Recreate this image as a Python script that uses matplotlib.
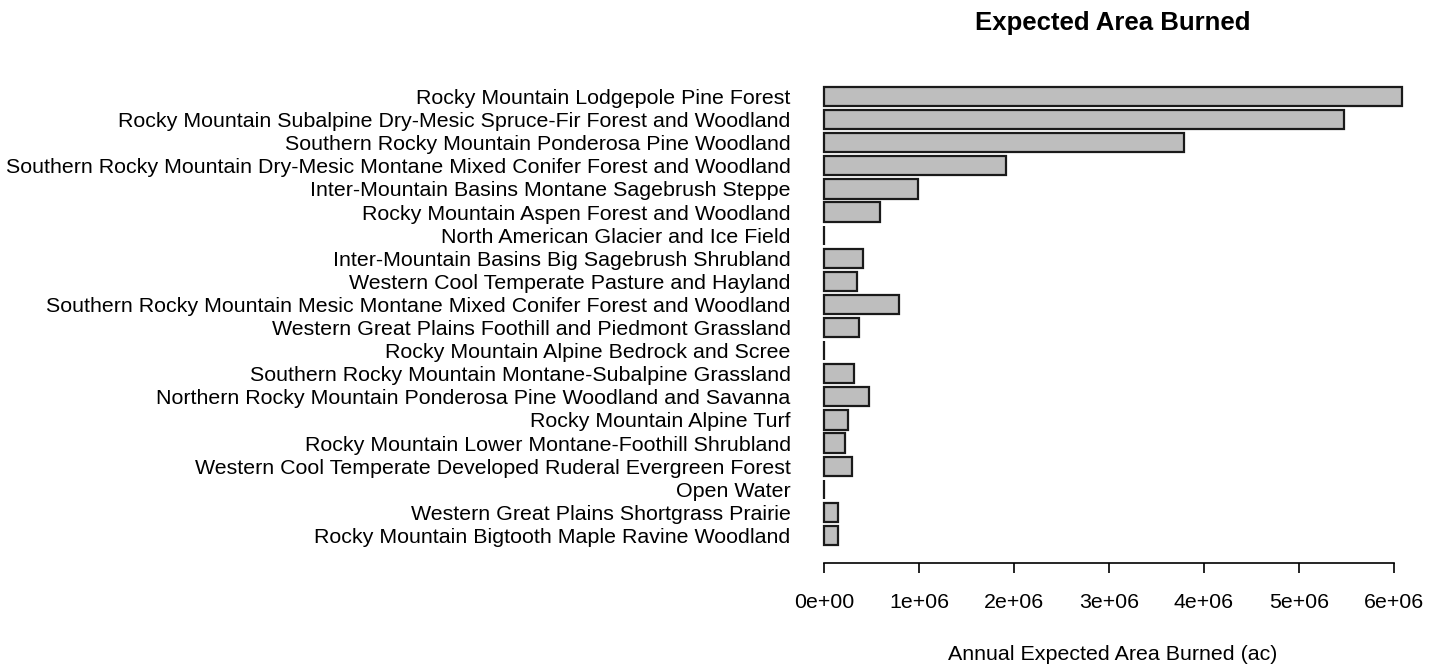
import matplotlib.pyplot as plt
import numpy as np
from matplotlib.ticker import FuncFormatter

plt.rcParams['font.family'] = ['Liberation Sans', 'DejaVu Sans']

# Vegetation types, listed top to bottom
veg_types = [
    "Rocky Mountain Lodgepole Pine Forest",
    "Rocky Mountain Subalpine Dry-Mesic Spruce-Fir Forest and Woodland",
    "Southern Rocky Mountain Ponderosa Pine Woodland",
    "Southern Rocky Mountain Dry-Mesic Montane Mixed Conifer Forest and Woodland",
    "Inter-Mountain Basins Montane Sagebrush Steppe",
    "Rocky Mountain Aspen Forest and Woodland",
    "North American Glacier and Ice Field",
    "Inter-Mountain Basins Big Sagebrush Shrubland",
    "Western Cool Temperate Pasture and Hayland",
    "Southern Rocky Mountain Mesic Montane Mixed Conifer Forest and Woodland",
    "Western Great Plains Foothill and Piedmont Grassland",
    "Rocky Mountain Alpine Bedrock and Scree",
    "Southern Rocky Mountain Montane-Subalpine Grassland",
    "Northern Rocky Mountain Ponderosa Pine Woodland and Savanna",
    "Rocky Mountain Alpine Turf",
    "Rocky Mountain Lower Montane-Foothill Shrubland",
    "Western Cool Temperate Developed Ruderal Evergreen Forest",
    "Open Water",
    "Western Great Plains Shortgrass Prairie",
    "Rocky Mountain Bigtooth Maple Ravine Woodland",
]

# Annual expected area burned (acres)
area_burned = [
    6.08e6, 5.47e6, 3.79e6, 1.92e6, 0.99e6, 0.59e6, 0.0,
    0.41e6, 0.35e6, 0.79e6, 0.37e6, 0.0, 0.32e6, 0.47e6,
    0.256e6, 0.225e6, 0.29e6, 0.0, 0.144e6, 0.144e6,
]

n = len(veg_types)
# barplot-style layout: bar width 1, space 0.2, first item at top
ypos = 0.7 + 1.2 * (n - 1 - np.arange(n))

fig = plt.figure(figsize=(14.39, 6.66), dpi=100)
ax = fig.add_axes([0.5566, 0.154, 0.4334, 0.743])

ax.barh(ypos, area_burned, height=1.0, color='#bebebe',
        edgecolor='#1a1a1a', linewidth=1.6)

xmax = max(area_burned)
ax.set_xlim(-0.04 * xmax, 1.04 * xmax)
ylo, yhi = 0.2, 0.2 + 1.2 * (n - 1) + 1.0
pad = 0.04 * (yhi - ylo)
ax.set_ylim(ylo - pad, yhi + pad)

for side in ['top', 'right', 'left']:
    ax.spines[side].set_visible(False)
ax.spines['bottom'].set_bounds(0, 6e6)
ax.spines['bottom'].set_linewidth(1.2)

ax.set_xticks(np.arange(0, 7e6, 1e6))
ax.xaxis.set_major_formatter(FuncFormatter(lambda v, p: f"{v:.0e}"))
ax.tick_params(axis='x', length=7, width=1.2, pad=14, labelsize=15.4)

ax.set_yticks(ypos)
ax.set_yticklabels(veg_types, fontsize=15.4)
ax.tick_params(axis='y', length=0, pad=7.4)

ax.set_xlabel("Annual Expected Area Burned (ac)", fontsize=15.4, labelpad=24)
ax.set_title("Expected Area Burned", fontsize=18.5, fontweight='bold', pad=28)

plt.savefig("out.png", dpi=100)
